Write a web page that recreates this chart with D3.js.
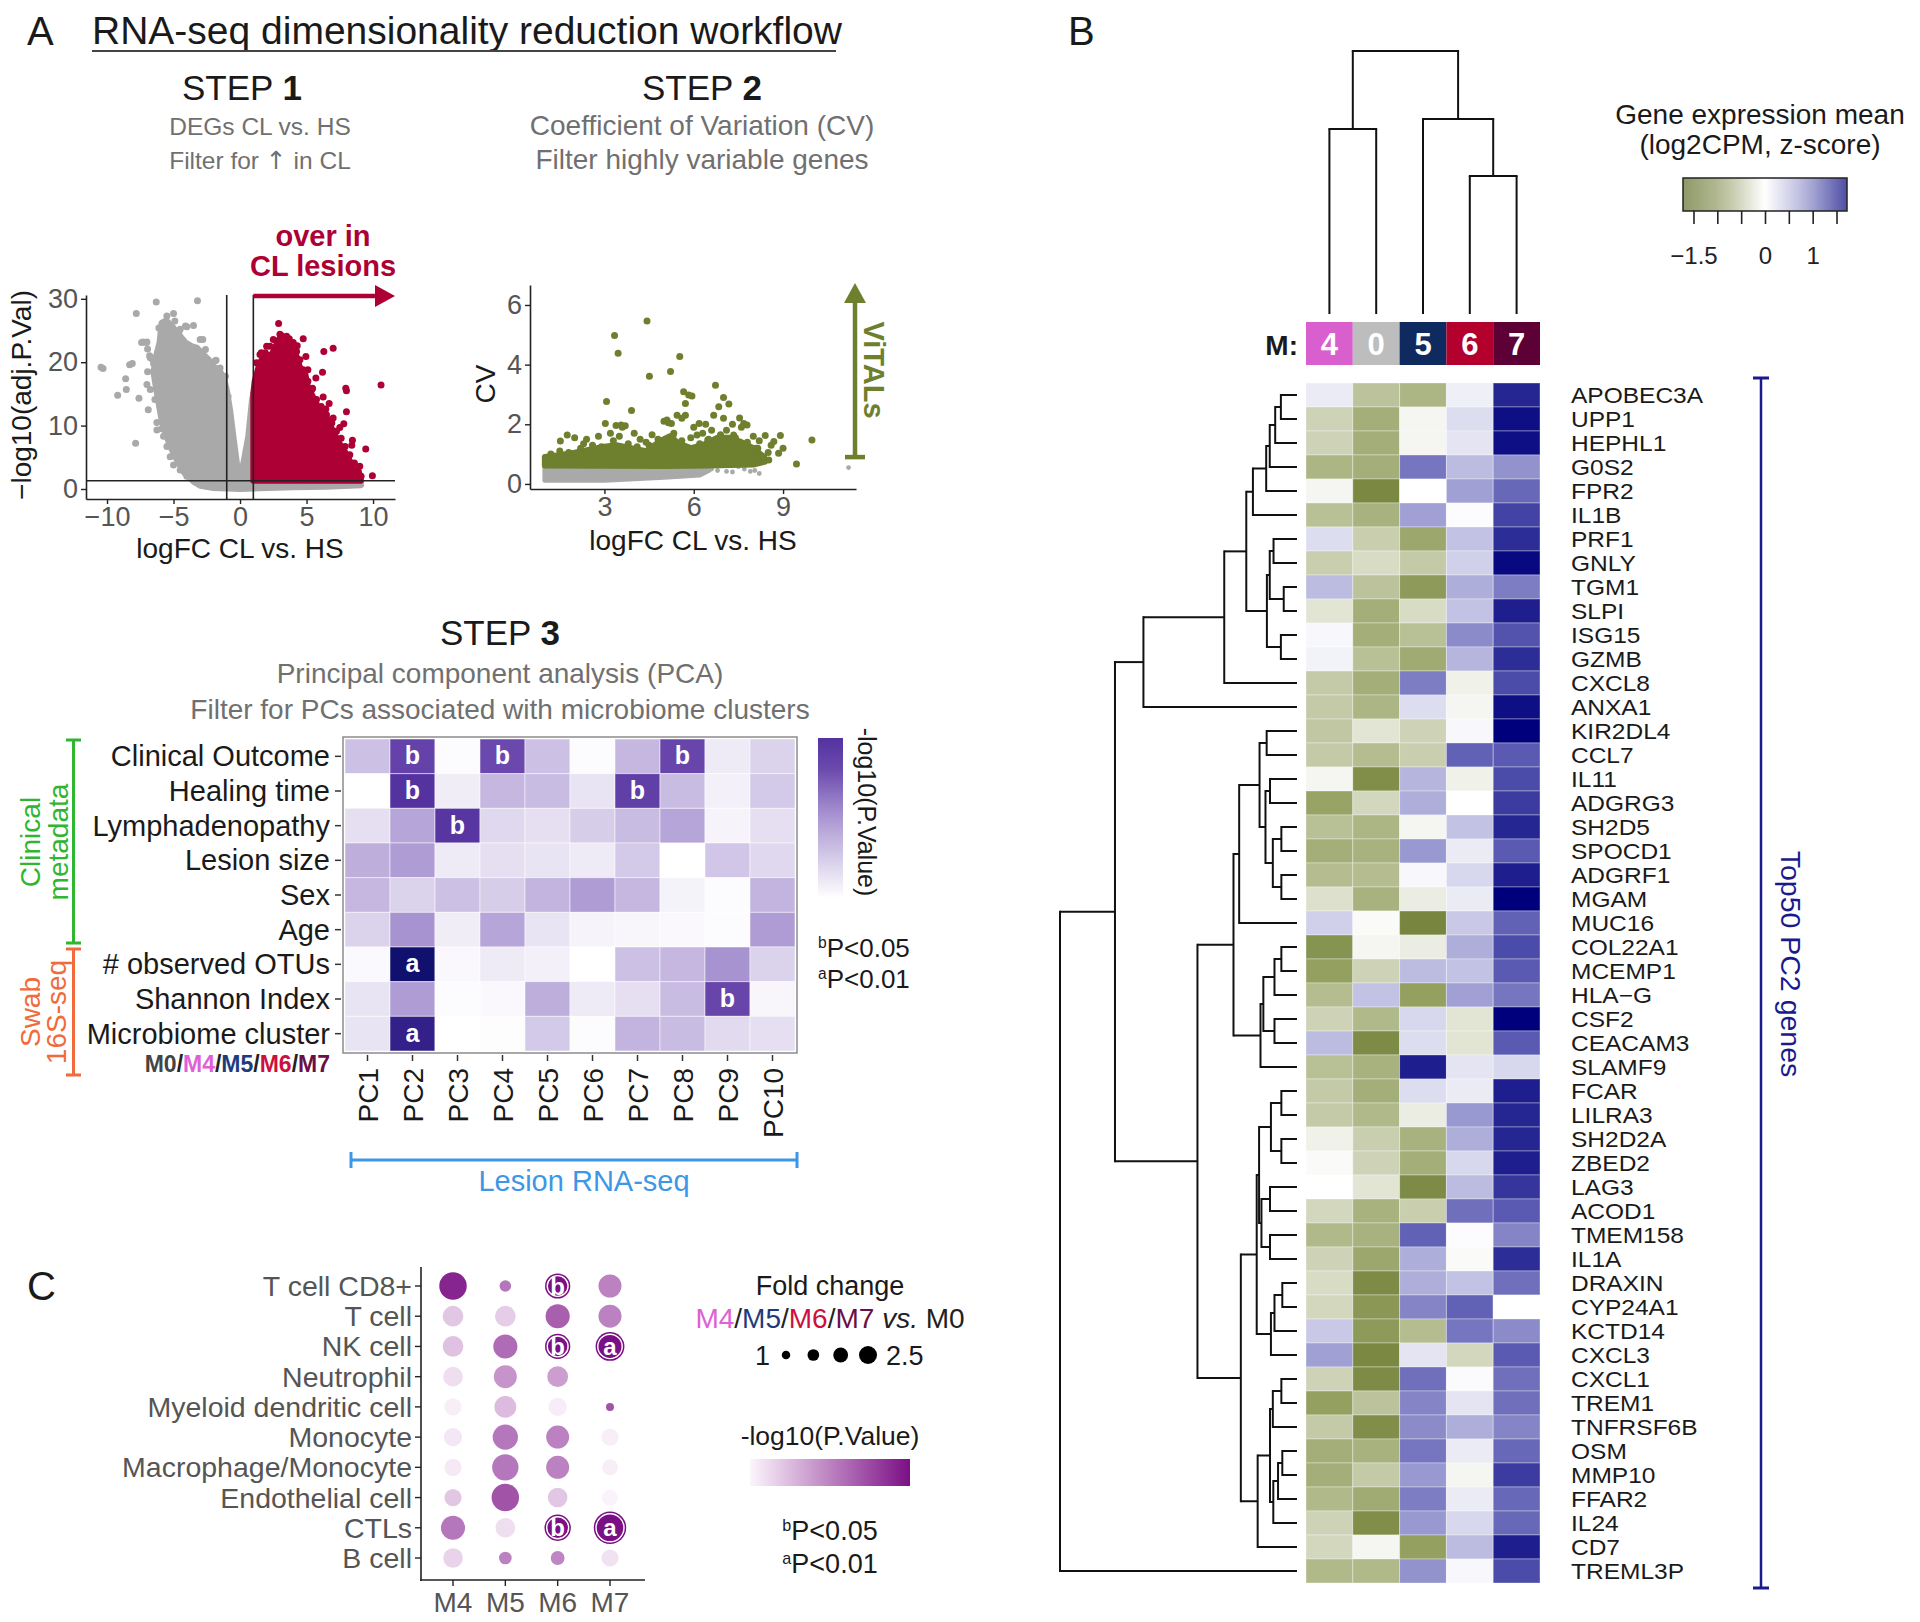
<!DOCTYPE html>
<html><head><meta charset="utf-8">
<script src="https://cdn.jsdelivr.net/npm/d3@7"></script>
<style>body{margin:0;background:#fff}svg{display:block}text{font-family:"Liberation Sans",Arial,Helvetica,sans-serif}</style>
</head><body><svg id="c" width="1920" height="1622"></svg>
<script>
// ---------------- DATA ----------------
// Step 1 volcano (logFC, -log10 adj P)
const volXTicks=[-10,-5,0,5,10];
const volYTicks=[0,10,20,30];
const volGrayCloud=[[-3.5,1.16],[-4.25,2.7],[-4.75,4.6],[-5.25,6.7],[-5.6,8.8],[-5.9,10.9],[-6.1,13.3],[-6.3,15.7],[-6.5,18.3],[-6.35,20.7],[-6.05,23.1],[-5.9,26.2],[-5.55,26.6],[-5.1,25.7],[-4.7,24.6],[-4.1,23.1],[-3.6,22.5],[-3.25,22.3],[-2.9,21.5],[-2.5,20.7],[-2.05,19.4],[-1.55,18.8],[-1.2,17.3],[-1.0,15.7],[-0.75,12.5],[-0.5,8.3],[-0.2,3.5],[0,2.0],[0.25,4.1],[0.62,8.3],[0.9,14.1],[1.0,15.1],[1.0,1.3],[9.0,1.3],[9.1,0.6],[6.5,0.37],[4.0,0.26],[1.5,0.1],[0,0],[-2,0.16],[-3,0.5]];
const volGrayPts=[[-10.45,19.2],[-10.3,19.0],[-7.8,27.7],[-6.3,29.5],[-5.0,27.7],[-3.2,29.7],[-8.3,19.6],[-8.1,19.8],[-8.6,17.4],[-9.2,14.8],[-8.55,15.7],[-7.6,14.3],[-7.85,7.2],[-7.3,23.2],[-7.0,23.2],[-6.95,18.5],[-6.3,15.8],[-6.05,18.4],[-6.25,10.5],[-5.5,8.8],[-4.6,24.5],[-4.0,25.6],[-3.5,25.8],[-2.8,23.6],[-1.8,20.3],[-7.0,16.5],[-6.6,20.5],[-6.8,21.0],[-5.9,11.8],[-4.1,2.5],[-3.9,2.6],[-2.8,19.3],[-3.5,21.5],[-5.3,24.3],[-5.6,25.5],[-6.5,19.8],[-6.9,12.5],[-5.9,9.5],
[-7.05,23.1],[-7.4,23.1],[-6.95,22.1],[-6.75,20.7],[-6.5,18.6],[-6.25,19.4],[-6,17.9],[-6.75,15.7],[-6.4,14.1],[-6,13],[-6.25,9.3],[-5.75,8.3],[-5.5,6.7],[-5.25,5.1],[-5,3.8],[-4.5,3.0],[-4,2.0],[-5.75,15.1],[-5.9,24.6],[-6.1,25.4],[-5.5,27.3],[-4.9,26.5],[-4.5,25.2],[-4.6,24.1],[-4.1,25.7],[-3,23.6],[-2.6,22],[-2.4,20.4],[-1.9,20.2],[-1.5,19.1],[-1.1,17.8],[-0.9,14.6]];
const volRedCloud=[[1.0,1.3],[1.0,15.1],[1.1,17],[1.4,19.3],[1.7,20.8],[2.0,21.0],[2.4,21.3],[2.9,23.6],[3.3,23.8],[3.7,23.0],[4.0,22],[4.3,20.7],[4.5,19.2],[4.9,18.2],[5.1,16.1],[5.5,14.5],[6.0,12.4],[6.5,11.3],[7.0,9.1],[7.5,7.1],[8.0,5.5],[8.5,3.4],[9.0,2.3],[9.1,1.3]];
const volRedPts=[[2.9,26.1],[3.1,24.2],[3.7,23.7],[4.3,22.6],[4.75,23.7],[4.95,20.9],[5.1,18.8],[6.3,21.7],[7.0,22.2],[6.2,18.4],[5.45,15.9],[6.25,14.5],[7.95,15.9],[8.0,15.5],[10.6,16.4],[6.45,12.6],[7.0,11.2],[8.0,12.2],[8.45,7.7],[9.45,6.3],[9.95,2.1],[8.4,6.9],[7.5,9.7],[7.8,10.3],[6.7,13.5],[5.7,17.5],[3.9,21.8],[2.0,22.5],[1.6,21.5],[8.8,2.5],[9.0,3.6],[7.3,6.5],
[1.25,19.9],[1.5,21.2],[1.9,21.5],[2.25,22.5],[2.5,23.6],[3,24.4],[3.5,24.1],[4,23.1],[4.25,21.7],[4.5,20.4],[4.75,18.8],[5.1,17],[5.4,15.7],[5.75,14.1],[6.1,13],[6.5,11.7],[6.9,10.4],[7.25,9.1],[7.6,8.0],[7.9,6.7],[8.25,5.4],[8.6,4.1],[8.9,2.7],[9.1,2.0]];
const volThresholds={logFC:1,adjP:1.3};

// Step 2 CV plot
const cvXTicks=[3,6,9];
const cvYTicks=[0,2,4,6];
const cvGrayCloud=[[1.0,0.12],[3,0.12],[5,0.22],[6.2,0.3],[6.5,0.45],[6.2,0.58],[5,0.65],[3,0.65],[1.0,0.65]];
const cvGrayPts=[[5.5,0.5],[5.8,0.45],[6.0,0.52],[6.3,0.42],[6.6,0.5],[6.8,0.45],[7.1,0.42],[7.5,0.58],[7.7,0.5],[7.9,0.42],[8.05,0.45],[8.2,0.35],[11.2,0.55],[5.2,0.4],[7.3,0.4]];
const cvGreenCloud=[[1.0,0.62],[1.0,0.9],[1.4,0.95],[2.0,1.05],[2.5,1.15],[3.0,1.25],[3.4,1.3],[3.9,1.2],[4.4,1.1],[4.9,1.45],[5.2,1.6],[5.5,1.35],[5.9,1.2],[6.3,1.3],[6.8,1.55],[7.2,1.55],[7.6,1.4],[8.0,1.2],[8.3,0.95],[8.4,0.75],[8.0,0.65],[6.5,0.62],[5.0,0.6]];
const cvGreenPts=[[3.34,4.98],[3.46,4.38],[4.43,5.46],[4.51,3.61],[5.22,3.77],[5.53,4.27],[3.07,2.76],[3.91,2.46],[6.73,3.31],[7.0,2.9],[7.18,2.68],[5.66,3.09],[5.83,2.98],[5.94,2.95],[5.72,2.70],[5.44,2.30],[5.72,2.30],[6.84,2.59],[6.67,2.30],[6.18,2.03],[7.54,2.21],[7.68,2.03],[7.79,1.98],[5.1,2.14],[5.25,2.03],[3.03,2.03],[3.39,1.96],[3.56,1.98],[1.75,1.64],[1.52,1.44],[9.97,1.47],[8.91,1.62],[8.40,1.62],[8.52,0.80],[9.45,0.67],[8.85,1.03],[8.69,1.42],[8.15,1.20],[5.33,1.70],[6.11,1.64],[6.47,1.47],[6.90,1.59],[7.34,1.64],[2.0,1.55],[2.4,1.5],[2.8,1.6],[3.6,1.9],[3.7,1.95],[4.2,1.5],[4.6,1.65],[5.0,2.1],[5.15,2.05],[5.6,2.2],[6.0,1.9],[6.4,2.0],[6.6,1.8],[7.0,2.2],[7.3,2.0],[7.6,1.9],[8.0,1.6],[8.2,1.45],[8.6,1.3],[4.0,1.7],[3.2,1.7],
[1.2,1.0],[1.5,1.1],[1.8,1.05],[2.2,1.2],[2.6,1.3],[2.9,1.25],[3.3,1.45],[3.8,1.35],[4.1,1.25],[4.5,1.3],[4.8,1.5],[5.3,1.6],[5.6,1.45],[6.2,1.35],[6.5,1.5],[6.9,1.65],[7.4,1.55],[7.8,1.4],[8.1,1.2],[8.35,0.9],[1.05,0.85],[8.5,1.05],[9.0,1.2],[2.3,1.35],[3.5,1.6],[4.4,1.4],[5.9,1.55],[6.3,1.7],[7.1,1.8]];
const cvVitalThreshold=0.9;

// Step 3 PCA association heatmap (-log10 P)
const pcs=["PC1","PC2","PC3","PC4","PC5","PC6","PC7","PC8","PC9","PC10"];
const pcaRows=["Clinical Outcome","Healing time","Lymphadenopathy","Lesion size","Sex","Age","# observed OTUs","Shannon Index","Microbiome cluster"];
const pcaVals=[
[0.56,1.6,0.03,1.5,0.56,0.03,0.64,1.55,0.19,0.4],
[0.0,1.85,0.16,0.64,0.6,0.24,1.65,0.6,0.13,0.48],
[0.29,0.8,1.8,0.35,0.29,0.45,0.6,0.8,0.1,0.29],
[0.72,0.88,0.19,0.29,0.24,0.19,0.48,0.0,0.51,0.35],
[0.64,0.4,0.56,0.45,0.67,0.88,0.64,0.11,0.03,0.67],
[0.4,0.96,0.16,0.8,0.24,0.1,0.08,0.06,0.03,0.88],
[0.05,3.0,0.06,0.19,0.13,0.0,0.56,0.64,0.96,0.4],
[0.24,0.88,0.03,0.06,0.72,0.19,0.29,0.6,1.55,0.08],
[0.24,2.4,0.0,0.02,0.48,0.03,0.67,0.6,0.32,0.29]];

// Panel C dot plot
const cellTypes=["T cell CD8+","T cell","NK cell","Neutrophil","Myeloid dendritic cell","Monocyte","Macrophage/Monocyte","Endothelial cell","CTLs","B cell"];
const comps=["M4","M5","M6","M7"];
const fcVals=[[3.34,1.21,3.04,2.74],[2.44,2.44,2.89,2.74],[2.44,2.89,3.04,3.52],[2.29,2.74,2.44,null],[1.96,2.59,2.11,0.73],[2.11,3.04,2.74,1.96],[1.96,3.19,2.74,1.81],[1.96,3.34,2.29,1.81],[2.89,2.29,3.19,4.0],[2.29,1.36,1.51,1.96]];
const pVals=[[1.22,0.74,1.6,0.68],[0.27,0.24,0.88,0.68],[0.3,0.81,1.6,2.5],[0.14,0.57,0.51,null],[0.04,0.34,0.05,0.95],[0.08,0.74,0.68,0.04],[0.07,0.74,0.68,0.04],[0.27,0.95,0.27,0.01],[0.74,0.14,1.6,2.5],[0.2,0.68,0.65,0.11]];
const fcLegend=[1,1.5,2,2.5];

// Panel B heatmap
const clusters=["4","0","5","6","7"];
const clusterColors=["#d95fcf","#bdbdbd","#0e2a5e","#b3002d","#5c0036"];
const colMerges=[["6","7",0.525],["4","0",0.703],["5",0,0.741],[1,2,1.0]];
const genes=["APOBEC3A","UPP1","HEPHL1","G0S2","FPR2","IL1B","PRF1","GNLY","TGM1","SLPI","ISG15","GZMB","CXCL8","ANXA1","KIR2DL4","CCL7","IL11","ADGRG3","SH2D5","SPOCD1","ADGRF1","MGAM","MUC16","COL22A1","MCEMP1","HLA\u2212G","CSF2","CEACAM3","SLAMF9","FCAR","LILRA3","SH2D2A","ZBED2","LAG3","ACOD1","TMEM158","IL1A","DRAXIN","CYP24A1","KCTD14","CXCL3","CXCL1","TREM1","TNFRSF6B","OSM","MMP10","FFAR2","IL24","CD7","TREML3P"];
const expr=[
[0.15,-0.7,-0.9,0.12,1.55],[-0.5,-1.0,-0.1,0.25,1.7],[-0.5,-1.0,-0.1,0.2,1.7],[-0.9,-1.0,1.0,0.5,0.8],[-0.1,-1.6,0.0,0.7,1.1],
[-0.75,-0.95,0.7,0.02,1.35],[0.25,-0.55,-1.1,0.45,1.5],[-0.55,-0.4,-0.6,0.35,1.75],[0.5,-0.7,-1.3,0.6,0.95],[-0.3,-1.0,-0.4,0.45,1.6],
[0.05,-1.0,-0.75,0.85,1.25],[0.1,-0.75,-1.05,0.55,1.5],[-0.6,-1.0,0.95,-0.15,1.3],[-0.6,-0.9,0.25,-0.1,1.7],[-0.65,-0.3,-0.5,0.05,1.8],
[-0.6,-0.8,-0.55,1.15,1.2],[-0.1,-1.5,0.55,-0.15,1.3],[-1.15,-0.45,0.6,0.0,1.4],[-0.75,-0.9,-0.1,0.45,1.55],[-1.0,-0.95,0.75,0.15,1.2],
[-0.8,-0.8,0.05,0.3,1.6],[-0.35,-0.95,-0.2,0.15,1.8],[0.35,-0.05,-1.65,0.4,1.15],[-1.4,-0.1,-0.2,0.6,1.3],[-1.2,-0.5,0.5,0.45,1.2],
[-0.8,0.45,-1.2,0.7,1.0],[-0.5,-0.85,0.3,-0.3,1.8],[0.5,-1.55,0.25,-0.3,1.2],[-0.75,-0.95,1.6,0.2,0.3],[-0.6,-1.0,0.25,0.15,1.6],
[-0.6,-0.85,-0.2,0.75,1.55],[-0.15,-0.55,-0.95,0.6,1.55],[-0.05,-0.5,-1.0,0.3,1.6],[0.0,-0.3,-1.55,0.5,1.45],[-0.45,-0.95,-0.55,1.05,1.2],
[-0.85,-0.95,1.15,0.02,0.9],[-0.5,-1.1,0.6,-0.05,1.5],[-0.4,-1.55,0.6,0.45,1.05],[-0.45,-1.35,0.9,1.15,0.0],[0.4,-1.3,-0.8,1.0,0.85],
[0.7,-1.6,0.2,-0.45,1.2],[-0.5,-1.55,1.05,0.03,1.05],[-1.2,-0.7,0.9,0.2,1.05],[-0.6,-1.5,0.85,0.6,0.9],[-1.0,-0.95,1.0,0.15,1.1],
[-1.0,-0.6,0.75,-0.1,1.4],[-0.85,-1.05,0.95,0.15,1.1],[-0.5,-1.5,0.75,0.3,1.1],[-0.45,-0.1,-1.2,0.5,1.6],[-0.85,-0.85,0.8,0.05,1.3]];
// row dendrogram merges [left,right,height]; numbers refer to earlier merges
const rowMerges=[
["APOBEC3A","UPP1",0.68],[0,"HEPHL1",0.92],[1,"G0S2",1.15],[2,"FPR2",1.30],[3,"IL1B",1.86],
["PRF1","GNLY",0.99],["TGM1","SLPI",0.56],[5,6,1.15],["ISG15","GZMB",0.68],[7,8,1.27],
[4,9,2.14],[10,"CXCL8",3.07],[11,"ANXA1",6.48],
["KIR2DL4","CCL7",1.28],["IL11","ADGRG3",1.14],["SH2D5","SPOCD1",0.66],["ADGRF1","MGAM",0.66],[15,16,1.02],[14,17,1.33],[13,18,1.58],[19,"MUC16",2.44],
["COL22A1","MCEMP1",0.66],[21,"HLA\u2212G",0.95],["CSF2","CEACAM3",0.95],[22,23,1.42],[24,"SLAMF9",1.54],[20,25,2.68],
["FCAR","LILRA3",0.66],["SH2D2A","ZBED2",0.66],[27,28,1.1],["LAG3","ACOD1",1.14],["TMEM158","IL1A",1.14],[30,31,1.5],[29,32,1.6],
["DRAXIN","CYP24A1",0.62],[34,"KCTD14",0.95],[35,"CXCL3",1.1],[33,36,1.7],
["CXCL1","TREM1",0.66],[38,"TNFRSF6B",1.02],["OSM","MMP10",0.62],[40,"FFAR2",0.8],[41,"IL24",1.0],[39,42,1.14],[43,"CD7",1.66],[37,44,2.37],
[26,45,4.2],[12,46,7.68],[47,"TREML3P",10]];
const zTicks=[-1.5,-1,-0.5,0,0.5,1,1.5];
const zTickLabels={"-1.5":"\u22121.5","0":"0","1":"1"};

// ---------------- DRAWING ----------------
const svg=d3.select("#c");
const defs=svg.append("defs");
function T(g,x,y,s,o={}){
  const t=g.append("text").attr("x",x).attr("y",y).attr("font-size",o.size||26).attr("fill",o.fill||"#1a1a1a").attr("text-anchor",o.anchor||"start");
  if(s!=null)t.text(s);
  if(o.weight)t.attr("font-weight",o.weight);
  if(o.style)t.attr("font-style",o.style);
  if(o.rotate!=null)t.attr("transform",`rotate(${o.rotate},${x},${y})`);
  return t;
}
function line(g,x1,y1,x2,y2,c,w){return g.append("line").attr("x1",x1).attr("y1",y1).attr("x2",x2).attr("y2",y2).attr("stroke",c).attr("stroke-width",w);}
function styleAxis(ax,fs,fill){
  ax.selectAll("path.domain").attr("stroke","#222").attr("stroke-width",1.6);
  ax.selectAll(".tick line").attr("stroke","#222").attr("stroke-width",1.4);
  ax.selectAll(".tick text").attr("font-size",fs).attr("fill",fill).attr("font-family",'"Liberation Sans",Arial,sans-serif');
}
const GRAY="#a9a9a9", RED="#ad0034", GREEN="#6e7f2e";

// Header A
T(svg,27,45,"A",{size:40});
T(svg,92,44,"RNA-seq dimensionality reduction workflow",{size:39});
line(svg,92,51,836,51,"#444",2.2);
function step(x,y,n){const t=T(svg,x,y,null,{size:35,anchor:"middle"});t.append("tspan").text("STEP ");t.append("tspan").attr("font-weight","bold").text(n);}
step(242,100,"1"); step(702,100,"2"); step(500,645,"3");
T(svg,260,135,"DEGs CL vs. HS",{size:24.5,fill:"#707070",anchor:"middle"});
{const t=T(svg,260,169,null,{size:24.5,fill:"#707070",anchor:"middle"});
 t.append("tspan").text("Filter for ");t.append("tspan").attr("font-family","DejaVu Sans").attr("font-size",25).text("\u2191");t.append("tspan").text(" in CL");}
T(svg,702,135,"Coefficient of Variation (CV)",{size:28,fill:"#707070",anchor:"middle"});
T(svg,702,169,"Filter highly variable genes",{size:28,fill:"#707070",anchor:"middle"});

// Volcano
{
const g=svg.append("g");
const vx=d3.scaleLinear().domain([-11.58,11.65]).range([86,395]);
const vy=d3.scaleLinear().domain([-1.58,30.6]).range([499,295]);
const ln=d3.line().x(d=>vx(d[0])).y(d=>vy(d[1])).curve(d3.curveLinearClosed);
g.append("path").attr("d",ln(volGrayCloud)).attr("fill",GRAY).attr("stroke",GRAY).attr("stroke-width",6).attr("stroke-linejoin","round");
g.selectAll(".gp").data(volGrayPts).join("circle").attr("cx",d=>vx(d[0])).attr("cy",d=>vy(d[1])).attr("r",3.5).attr("fill",GRAY);
g.append("path").attr("d",ln(volRedCloud)).attr("fill",RED).attr("stroke",RED).attr("stroke-width",6).attr("stroke-linejoin","round");
g.selectAll(".rp").data(volRedPts).join("circle").attr("cx",d=>vx(d[0])).attr("cy",d=>vy(d[1])).attr("r",3.5).attr("fill",RED);
const [x0,x1]=vx.range(),[y0,y1]=vy.range();
line(g,x0,vy(volThresholds.adjP),x1,vy(volThresholds.adjP),"#222",1.6);
line(g,vx(-volThresholds.logFC),y0,vx(-volThresholds.logFC),y1,"#222",1.6);
line(g,vx(volThresholds.logFC),y0,vx(volThresholds.logFC),y1,"#222",1.6);
const ax=g.append("g").attr("transform",`translate(${x0},0)`).call(d3.axisLeft(vy).tickValues(volYTicks).tickSize(5).tickSizeOuter(0).tickPadding(3));
styleAxis(ax,27,"#555");
const bx=g.append("g").attr("transform",`translate(0,${y0})`).call(d3.axisBottom(vx).tickValues(volXTicks).tickSize(5).tickSizeOuter(0).tickFormat(d=>d<0?"\u2212"+(-d):d));
styleAxis(bx,27,"#555");
T(g,240,558,"logFC CL vs. HS",{size:28,anchor:"middle"});
T(g,31,395,"\u2212log10(adj.P.Val)",{size:28,anchor:"middle",rotate:-90});
const ay=y1+1;
line(g,vx(volThresholds.logFC),ay,x1-16,ay,RED,4.5);
g.append("path").attr("d",`M${x1-20},${ay-11}L${x1},${ay}L${x1-20},${ay+11}Z`).attr("fill",RED);
T(g,323,246,"over in",{size:29,weight:"bold",fill:RED,anchor:"middle"});
T(g,323,276,"CL lesions",{size:29,weight:"bold",fill:RED,anchor:"middle"});
}

// CV plot
{
const g=svg.append("g");
const cx=d3.scaleLinear().domain([0.5,11.45]).range([530,856]);
const cy=d3.scaleLinear().domain([-0.17,6.67]).range([489,285]);
const ln=d3.line().x(d=>cx(d[0])).y(d=>cy(d[1])).curve(d3.curveLinearClosed);
g.append("path").attr("d",ln(cvGrayCloud)).attr("fill",GRAY).attr("stroke",GRAY).attr("stroke-width",5).attr("stroke-linejoin","round");
g.selectAll(".gp").data(cvGrayPts).join("circle").attr("cx",d=>cx(d[0])).attr("cy",d=>cy(d[1])).attr("r",2.4).attr("fill",GRAY);
g.append("path").attr("d",ln(cvGreenCloud)).attr("fill",GREEN).attr("stroke",GREEN).attr("stroke-width",6).attr("stroke-linejoin","round");
g.selectAll(".vp").data(cvGreenPts).join("circle").attr("cx",d=>cx(d[0])).attr("cy",d=>cy(d[1])).attr("r",3.5).attr("fill",GREEN);
const ax=g.append("g").attr("transform",`translate(530,0)`).call(d3.axisLeft(cy).tickValues(cvYTicks).tickSize(5).tickSizeOuter(0).tickPadding(3).tickFormat(d3.format("d")));
styleAxis(ax,27,"#555");
const bx=g.append("g").attr("transform",`translate(0,489)`).call(d3.axisBottom(cx).tickValues(cvXTicks).tickSize(5).tickSizeOuter(0));
styleAxis(bx,27,"#555");
T(g,693,550,"logFC CL vs. HS",{size:28,anchor:"middle"});
T(g,495,384,"CV",{size:28,anchor:"middle",rotate:-90});
const axX=855, yb=cy(cvVitalThreshold), yt=283;
line(g,axX,yb,axX,yt+16,GREEN,4.5);
line(g,axX-10,yb,axX+10,yb,GREEN,4.5);
g.append("path").attr("d",`M${axX-11},${yt+20}L${axX},${yt}L${axX+11},${yt+20}Z`).attr("fill",GREEN);
T(g,864,370,"ViTALs",{size:29,weight:"bold",fill:GREEN,anchor:"middle",rotate:90});
}

// Step 3
T(svg,500,683,"Principal component analysis (PCA)",{size:28,fill:"#707070",anchor:"middle"});
T(svg,500,719,"Filter for PCs associated with microbiome clusters",{size:28,fill:"#707070",anchor:"middle"});
{
const g=svg.append("g");
const hx=d3.scaleBand().domain(pcs).range([345,795]);
const hy=d3.scaleBand().domain(pcaRows).range([739,1051]);
const pcColor=d3.scaleLinear().domain([0,1,1.5,2,3]).range(["#ffffff","#a48fcf","#6a48ad","#4a2a9a","#10106e"]).clamp(true);
const cells=[];
pcaRows.forEach((r,i)=>pcs.forEach((p,j)=>cells.push({r,p,v:pcaVals[i][j]})));
g.selectAll(".cell").data(cells).join("rect").attr("x",d=>hx(d.p)).attr("y",d=>hy(d.r)).attr("width",hx.bandwidth()).attr("height",hy.bandwidth()).attr("fill",d=>pcColor(d.v)).attr("stroke","#fff").attr("stroke-opacity",0.5).attr("stroke-width",1);
g.selectAll(".sig").data(cells.filter(d=>d.v>1.3)).join("text").attr("x",d=>hx(d.p)+hx.bandwidth()/2).attr("y",d=>hy(d.r)+hy.bandwidth()/2+8).attr("text-anchor","middle").attr("fill","#fff").attr("font-weight","bold").attr("font-size",25).text(d=>d.v>2?"a":"b");
g.append("rect").attr("x",343).attr("y",737).attr("width",454).attr("height",316).attr("fill","none").attr("stroke","#8c8c8c").attr("stroke-width",1.5);
pcaRows.forEach(r=>{const y=hy(r)+hy.bandwidth()/2;line(g,335,y,341,y,"#333",1.5);T(g,330,y+10,r,{size:29,anchor:"end"});});
pcs.forEach(p=>{const x=hx(p)+hx.bandwidth()/2;line(g,x,1055,x,1061,"#333",1.5);T(g,x+10,1068,p,{size:28,anchor:"end",rotate:-90});});
const mt=T(g,330,1072,null,{size:23,weight:"bold",anchor:"end"});
[["M0","#444"],["/","#222"],["M4","#e060d6"],["/","#222"],["M5","#1e3c7c"],["/","#222"],["M6","#cc1040"],["/","#222"],["M7","#6a1048"]].forEach(d=>mt.append("tspan").attr("fill",d[1]).text(d[0]));
const GR="#2fb52f",OR="#ef6b3b",BL="#3d97e6";
line(g,73.5,740,73.5,943,GR,3);line(g,66,740,81,740,GR,3);line(g,66,943,81,943,GR,3);
line(g,73.5,949,73.5,1075,OR,3);line(g,66,949,81,949,OR,3);line(g,66,1075,81,1075,OR,3);
T(g,40,842,"Clinical",{size:28,fill:GR,anchor:"middle",rotate:-90});
T(g,68,842,"metadata",{size:28,fill:GR,anchor:"middle",rotate:-90});
T(g,40,1012,"Swab",{size:28,fill:OR,anchor:"middle",rotate:-90});
T(g,66,1012,"16S-seq",{size:28,fill:OR,anchor:"middle",rotate:-90});
line(g,351,1160,797,1160,BL,3);line(g,351,1152,351,1168,BL,3);line(g,797,1152,797,1168,BL,3);
T(g,584,1191,"Lesion RNA-seq",{size:29,fill:BL,anchor:"middle"});
const lg=defs.append("linearGradient").attr("id","pcg").attr("x1",0).attr("y1",1).attr("x2",0).attr("y2",0);
d3.range(0,1.01,0.1).forEach(t=>lg.append("stop").attr("offset",t).attr("stop-color",pcColor(t*1.85)));
g.append("rect").attr("x",818).attr("y",738).attr("width",25).attr("height",160).attr("fill","url(#pcg)");
T(g,858,812,"-log10(P.Value)",{size:25,anchor:"middle",rotate:90});
function sup(x,y,s,rest,size){const t=T(g,x,y,null,{size});t.append("tspan").attr("font-size",size*0.6).attr("dy",-size*0.35).text(s);t.append("tspan").attr("dy",size*0.35).text(rest);return t;}
sup(818,957,"b","P<0.05",26);sup(818,988,"a","P<0.01",26);
}

// Panel C
T(svg,27,1300,"C",{size:40});
{
const g=svg.append("g");
const cx=d3.scalePoint().domain(comps).range([453,610]);
const cy=d3.scalePoint().domain(cellTypes).range([1286,1558]);
const rS=d3.scaleLinear().domain([1,2.5]).range([5,10.6]);
const pC=d3.scaleLinear().domain([0,1.35]).range(["#fcf5fc","#7b0f85"]).clamp(true);
line(g,421,1267,421,1581,"#222",1.6);
line(g,420,1580,645,1580,"#222",1.6);
cellTypes.forEach(c=>{const y=cy(c);line(g,415,y,421,y,"#222",1.4);T(g,412,y+10,c,{size:28.5,fill:"#555",anchor:"end"});});
comps.forEach(m=>{const x=cx(m);line(g,x,1580,x,1586,"#222",1.4);T(g,x,1612,m,{size:28,fill:"#555",anchor:"middle"});});
const dots=[];
cellTypes.forEach((c,i)=>comps.forEach((m,j)=>{if(fcVals[i][j]!=null)dots.push({c,m,fc:fcVals[i][j],p:pVals[i][j]});}));
g.selectAll(".dot").data(dots).join("circle").attr("cx",d=>cx(d.m)).attr("cy",d=>cy(d.c)).attr("r",d=>rS(d.fc)).attr("fill",d=>pC(d.p));
const sig=dots.filter(d=>d.p>1.3);
g.selectAll(".ring").data(sig).join("circle").attr("cx",d=>cx(d.m)).attr("cy",d=>cy(d.c)).attr("r",d=>rS(d.fc)-2.2).attr("fill","none").attr("stroke","#fff").attr("stroke-width",1.4);
g.selectAll(".sl").data(sig).join("text").attr("x",d=>cx(d.m)).attr("y",d=>cy(d.c)+8.5).attr("text-anchor","middle").attr("fill","#fff").attr("font-weight","bold").attr("font-size",24).text(d=>d.p>2?"a":"b");
T(g,830,1295,"Fold change",{size:27,anchor:"middle"});
const lt=T(g,830,1328,null,{size:28,anchor:"middle"});
[["M4","#e060d6"],["/","#222"],["M5","#1e3c7c"],["/","#222"],["M6","#cc1040"],["/","#222"],["M7","#6a1048"]].forEach(d=>lt.append("tspan").attr("fill",d[1]).text(d[0]));
lt.append("tspan").attr("fill","#222").attr("font-style","italic").text(" vs.");
lt.append("tspan").attr("fill","#222").text(" M0");
const lx=d3.scalePoint().domain(fcLegend).range([786,868]);
T(g,770,1365,"1",{size:27,anchor:"end"});
g.selectAll(".ld").data(fcLegend).join("circle").attr("cx",d=>lx(d)).attr("cy",1355).attr("r",d=>rS(d)*0.85).attr("fill","#000");
T(g,886,1365,"2.5",{size:27});
T(g,830,1445,"-log10(P.Value)",{size:26.5,anchor:"middle"});
const lg=defs.append("linearGradient").attr("id","fcg");
d3.range(0,1.01,0.1).forEach(t=>lg.append("stop").attr("offset",t).attr("stop-color",pC(t*1.35)));
g.append("rect").attr("x",750).attr("y",1459).attr("width",160).attr("height",27).attr("fill","url(#fcg)");
function sup(x,y,s,rest,size){const t=T(g,x,y,null,{size,anchor:"middle"});t.append("tspan").attr("font-size",size*0.6).attr("dy",-size*0.35).text(s);t.append("tspan").attr("dy",size*0.35).text(rest);return t;}
sup(830,1540,"b","P<0.05",27);sup(830,1573,"a","P<0.01",27);
}

// Panel B
T(svg,1068,45,"B",{size:40});
{
const g=svg.append("g");
const bx=d3.scaleBand().domain(clusters).range([1306,1540]);
const by=d3.scaleBand().domain(genes).range([383,1583]);
const zC=d3.scaleLinear().domain([-1.8,-1.2,-0.6,0,0.6,1.2,1.8]).range(["#6d7c33","#93a060","#c4caa8","#ffffff","#aeaedb","#5a5ab2","#00007c"]).clamp(true);
const cells=[];
genes.forEach((gn,i)=>clusters.forEach((c,j)=>cells.push({gn,c,v:expr[i][j]})));
g.selectAll(".hc").data(cells).join("rect").attr("x",d=>bx(d.c)).attr("y",d=>by(d.gn)).attr("width",bx.bandwidth()).attr("height",by.bandwidth()).attr("fill",d=>zC(d.v)).attr("stroke","#fff").attr("stroke-opacity",0.35).attr("stroke-width",1);
// gene labels: compact height, widened glyphs to match the reference lettering
genes.forEach(gn=>{const t=T(g,1571,by(gn)+by.bandwidth()/2+7.8,gn,{size:21.3});
  const L=t.node().getComputedTextLength(); t.attr("textLength",L*1.15).attr("lengthAdjust","spacingAndGlyphs");});
clusters.forEach((c,j)=>{g.append("rect").attr("x",bx(c)).attr("y",322).attr("width",bx.bandwidth()).attr("height",43).attr("fill",clusterColors[j]);
 T(g,bx(c)+bx.bandwidth()/2,355,c,{size:31,weight:"bold",fill:"#fff",anchor:"middle"});});
T(g,1298,355,"M:",{size:28,weight:"bold",anchor:"end"});
const dy=d3.scaleLinear().domain([0,1]).range([314,51]);
const cnode=[];
function cpos(a){return typeof a==="string"?{x:bx(a)+bx.bandwidth()/2,h:0}:cnode[a];}
colMerges.forEach(m=>{const a=cpos(m[0]),b=cpos(m[1]),h=m[2];
 line(g,a.x,dy(a.h),a.x,dy(h),"#111",2);line(g,b.x,dy(b.h),b.x,dy(h),"#111",2);line(g,a.x-1,dy(h),b.x+1,dy(h),"#111",2);
 cnode.push({x:(a.x+b.x)/2,h});});
const dx=d3.scaleLinear().domain([0,10]).range([1297,1060]);
const rnode=[];
function rpos(a){return typeof a==="string"?{y:by(a)+by.bandwidth()/2,h:0}:rnode[a];}
rowMerges.forEach(m=>{const a=rpos(m[0]),b=rpos(m[1]),h=m[2];
 line(g,dx(a.h),a.y,dx(h),a.y,"#111",2);line(g,dx(b.h),b.y,dx(h),b.y,"#111",2);line(g,dx(h),a.y-1,dx(h),b.y+1,"#111",2);
 rnode.push({y:(a.y+b.y)/2,h});});
T(g,1760,124,"Gene expression mean",{size:28,anchor:"middle"});
T(g,1760,154,"(log2CPM, z-score)",{size:28,anchor:"middle"});
const zl=d3.scaleLinear().domain([-1.72,1.72]).range([1683,1847]);
const zLeg=d3.scaleLinear().domain([-1.72,-0.86,0,0.86,1.72]).range(["#8e9966","#b9bf9a","#ffffff","#b4b4dc","#4f4fa5"]);
const lg=defs.append("linearGradient").attr("id","zg");
d3.range(0,1.01,0.1).forEach(t=>lg.append("stop").attr("offset",t).attr("stop-color",zLeg(-1.72+3.44*t)));
g.append("rect").attr("x",1683).attr("y",178).attr("width",164).attr("height",33).attr("fill","url(#zg)").attr("stroke","#222").attr("stroke-width",1.5);
const ax=g.append("g").attr("transform","translate(0,211)").call(d3.axisBottom(zl).tickValues(zTicks).tickSize(13).tickSizeOuter(0).tickPadding(23).tickFormat(d=>zTickLabels[String(d)]||""));
ax.select("path.domain").remove();
ax.selectAll(".tick line").attr("stroke","#222").attr("stroke-width",1.6);
ax.selectAll(".tick text").attr("font-size",24).attr("fill","#222");
const NV="#1a1a8c";
line(g,1761,378,1761,1588,NV,2.5);line(g,1753,378,1769,378,NV,3);line(g,1753,1588,1769,1588,NV,3);
T(g,1781,964,"Top50 PC2 genes",{size:28.5,fill:NV,anchor:"middle",rotate:90});
}
</script></body></html>
